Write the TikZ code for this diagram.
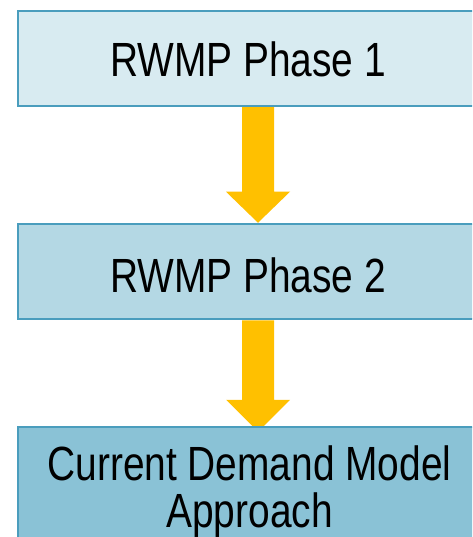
\documentclass[tikz,border=0pt]{standalone}
\usepackage{fontspec}
\usetikzlibrary{calc}
\newfontfamily\boxfont[FakeStretch=0.81]{Liberation Sans}
\definecolor{edgeblue}{HTML}{4A9DBD}
\definecolor{fillA}{HTML}{D8EBF1}
\definecolor{fillB}{HTML}{B4D8E4}
\definecolor{fillC}{HTML}{8AC2D6}
\definecolor{gold}{HTML}{FFC000}
\pgfdeclarelayer{behind}
\pgfsetlayers{behind,main}
\begin{document}
\begin{tikzpicture}[x=1pt,y=-1pt,
  phasebox/.style={draw=edgeblue,line width=2.5pt,rectangle,inner sep=0pt},
  phasetext/.style={anchor=base,inner sep=0pt,font=\boxfont\fontsize{48}{47}\selectfont,align=center},
  flowarrow/.style={fill=gold,draw=none}]
\useasboundingbox (0,0) rectangle (472,537);
\clip (0,0) rectangle (472,537);

% the three stages
\node[phasebox,fill=fillA,minimum width=462pt,minimum height=95pt] (p1) at (249,58.5) {};
\node[phasebox,fill=fillB,minimum width=462pt,minimum height=95pt] (p2) at (249,271.5) {};
\node[phasebox,fill=fillC,minimum width=462pt,minimum height=133pt] (p3) at (249,493.5) {};

\node[phasetext] (t1) at (248,77) {RWMP Phase 1};
\node[phasetext] (t2) at (248,292) {RWMP Phase 2};
% base anchor of a two-line node sits on its last line
\node[phasetext] (t3) at (249.5,527) {Current Demand Model\\Approach};

% block arrows between stages, drawn under the boxes
\begin{pgfonlayer}{behind}
\fill[white] (0,0) rectangle (472,537);
% source/target/head base above target/tip offset
\foreach \a/\b/\h/\t in {p1/p2/31/0,p2/p3/26/6}{
  \fill[flowarrow]
    ($(\a.south)+(-7,0)$) -- ($(\a.south)+(25,0)$) --
    ($(\b.north)+(25,-\h)$) -- ($(\b.north)+(41,-\h)$) --
    ($(\b.north)+(9,\t)$) --
    ($(\b.north)+(-23,-\h)$) -- ($(\b.north)+(-7,-\h)$) -- cycle;
}
\end{pgfonlayer}
\end{tikzpicture}
\end{document}
